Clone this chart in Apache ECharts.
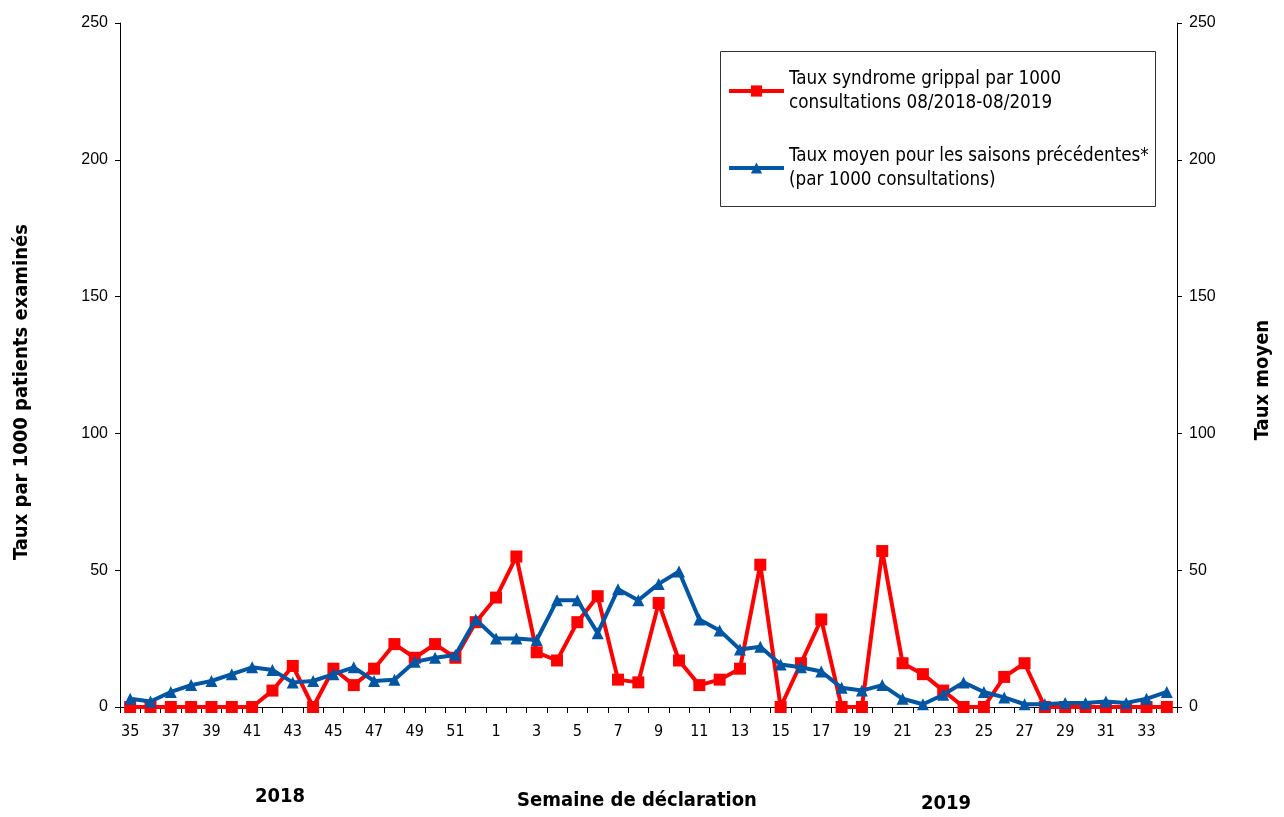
<!DOCTYPE html>
<html>
<head>
<meta charset="utf-8">
<script src="https://cdn.jsdelivr.net/npm/echarts@6/dist/echarts.min.js"></script>
<style>html,body{margin:0;padding:0;background:#fff}#c{width:1284px;height:817px}</style>
</head>
<body>
<div id="c"></div>
<script>
const weeks = ['35','36','37','38','39','40','41','42','43','44','45','46','47','48','49','50','51','52',
  '1','2','3','4','5','6','7','8','9','10','11','12','13','14','15','16','17','18','19','20','21','22','23','24','25','26','27','28','29','30','31','32','33','34'];
const tauxGrippal = [0,0,0,0,0,0,0,6,15,0,14,8,14,23,18,23,18,31,
  40,55,20,17,31,40.5,10,9,38,17,8,10,14,52,0,16,32,0,0,57,16,12,6,0,0,11,16,0,0,0,0,0,0,0];
const tauxMoyen = [3,2,5.5,8,9.5,12,14.5,13.5,9,9.5,12,14.5,9.5,10,16.5,18,19,32,
  25,25,24.5,39,39,27,43,39,45,49.5,32,28,21,22,15.5,14.5,13,7,6,8,3,1,4.5,9,5.5,3.5,1,1,1.5,1.5,2,1.5,3,5.5];
const yTicks = [0,50,100,150,200,250];
const seriesNames = ['Taux syndrome grippal par 1000\nconsultations 08/2018-08/2019',
  'Taux moyen pour les saisons précédentes*\n(par 1000 consultations)'];

const NARROW = "'Liberation Sans Narrow','DejaVu Sans Condensed','Liberation Sans',sans-serif";
const REG = "'Liberation Sans',Arial,sans-serif";

const chart = echarts.init(document.getElementById('c'));
const yAxisBase = {
  type: 'value', min: 0, max: 250, interval: 50,
  axisLine: {show: true, lineStyle: {color: '#000', width: 1}},
  axisTick: {show: true, length: 5, lineStyle: {color: '#000'}},
  splitLine: {show: false},
  axisLabel: {color: '#000', fontFamily: REG, fontSize: 16, margin: 12}
};
chart.setOption({
  animation: false,
  backgroundColor: '#fff',
  grid: {left: 120, right: 107, top: 23, bottom: 110, containLabel: false},
  xAxis: {
    type: 'category', data: weeks, boundaryGap: true,
    axisLine: {lineStyle: {color: '#000', width: 1}},
    axisTick: {show: true, interval: 0, length: 6, lineStyle: {color: '#000'}},
    axisLabel: {interval: 1, color: '#000', fontFamily: NARROW, fontSize: 16, margin: 17}
  },
  yAxis: [
    Object.assign({}, yAxisBase, {position: 'left'}),
    Object.assign({}, yAxisBase, {position: 'right'})
  ],
  legend: {
    orient: 'vertical', left: 727, top: 55, padding: 0, itemGap: 5,
    itemWidth: 55, itemHeight: 14,
    data: seriesNames,
    lineStyle: {width: 4},
    textStyle: {color: '#000', fontFamily: NARROW, fontSize: 18.7, lineHeight: 24, padding: [24, 0, 0, 0]}
  },
  graphic: [
    {type: 'rect', shape: {x: 720.5, y: 51.5, width: 435, height: 155}, style: {fill: 'none', stroke: '#333', lineWidth: 1}, z: 0},
    {type: 'text', x: 22, y: 392, rotation: Math.PI / 2, style: {text: 'Taux par 1000 patients examinés', font: "bold 20px " + NARROW, fill: '#000', textAlign: 'center', textVerticalAlign: 'middle'}},
    {type: 'text', x: 1263, y: 380, rotation: Math.PI / 2, style: {text: 'Taux moyen', font: "bold 20px " + NARROW, fill: '#000', textAlign: 'center', textVerticalAlign: 'middle'}},
    {type: 'text', x: 637, y: 801, style: {text: 'Semaine de déclaration', font: "bold 20px " + NARROW, fill: '#000', textAlign: 'center', textVerticalAlign: 'middle'}},
    {type: 'text', x: 280, y: 797, style: {text: '2018', font: "bold 20px " + NARROW, fill: '#000', textAlign: 'center', textVerticalAlign: 'middle'}},
    {type: 'text', x: 946, y: 804, style: {text: '2019', font: "bold 20px " + NARROW, fill: '#000', textAlign: 'center', textVerticalAlign: 'middle'}}
  ],
  series: [
    {name: seriesNames[0], type: 'line', data: tauxGrippal, yAxisIndex: 0,
      symbol: 'rect', symbolSize: 12, showAllSymbol: true,
      lineStyle: {color: '#ff0000', width: 4}, itemStyle: {color: '#ff0000'}, z: 3},
    {name: seriesNames[1], type: 'line', data: tauxMoyen, yAxisIndex: 1,
      symbol: 'triangle', symbolSize: 12, showAllSymbol: true,
      lineStyle: {color: '#0056a2', width: 4}, itemStyle: {color: '#0056a2'}, z: 4}
  ]
});
</script>
</body>
</html>
